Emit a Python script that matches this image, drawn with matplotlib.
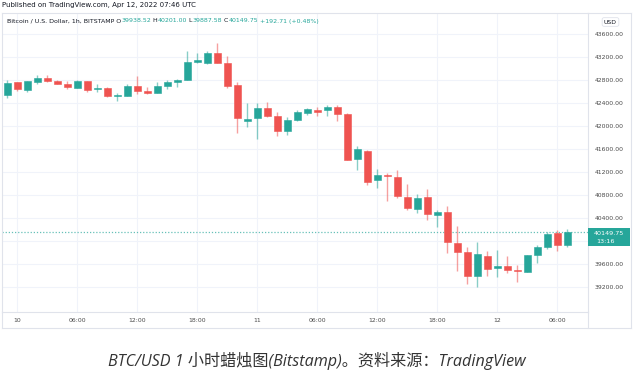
import matplotlib
matplotlib.use("Agg")
import matplotlib.pyplot as plt
from matplotlib.patches import Rectangle
import numpy as np

# hourly candles, hour 0 = Apr 10 00:00 UTC
hours = list(range(-1, 56))
opens = [42544, 42765, 42626, 42771, 42830, 42788, 42730, 42666, 42777, 42638,
         42661, 42527, 42527, 42696, 42609, 42579, 42696, 42771, 42800, 43118,
         43101, 43275, 43101, 42713, 42087, 42144, 42313, 42174, 41919, 42104,
         42231, 42273, 42278, 42336, 42209, 41421, 41571, 41061, 41148, 41118,
         40771, 40562, 40765, 40458, 40510, 39970, 39804, 39397, 39739, 39531,
         39560, 39496, 39467, 39752, 39901, 40134, 39938.52]
highs = [42800, 42770, 42788, 42887, 42887, 42800, 42783, 42800, 42788, 42730,
         42678, 42579, 42730, 42870, 42673, 42765, 42800, 42823, 43310, 43275,
         43304, 43449, 43217, 42760, 42395, 42395, 42417, 42238, 42151, 42278,
         42313, 42325, 42365, 42365, 42231, 41652, 41583, 41247, 41178, 41235,
         40991, 40818, 40904, 40539, 40609, 40261, 39901, 39988, 39832, 39844,
         39745, 39583, 39757, 39931, 40151, 40191, 40201.00]
lows = [42492, 42614, 42597, 42730, 42765, 42730, 42649, 42661, 42586, 42586,
        42504, 42440, 42527, 42551, 42551, 42569, 42649, 42684, 42800, 43090,
        43073, 43101, 42666, 41884, 41988, 41774, 42151, 41831, 41844, 42092,
        42197, 42180, 42174, 42087, 41409, 41235, 40974, 40927, 40696, 40743,
        40539, 40492, 40365, 40249, 39786, 39484, 39253, 39206, 39392, 39380,
        39438, 39293, 39467, 39623, 39866, 39832, 39887.58]
closes = [42753, 42644, 42777, 42835, 42788, 42736, 42673, 42788, 42626, 42661,
          42527, 42544, 42701, 42604, 42569, 42696, 42760, 42800, 43113, 43148,
          43275, 43101, 42701, 42144, 42122, 42313, 42174, 41913, 42104, 42244,
          42301, 42238, 42336, 42209, 41409, 41600, 41031, 41148, 41130, 40783,
          40579, 40753, 40465, 40510, 39988, 39814, 39397, 39774, 39508, 39560,
          39501, 39478, 39757, 39891, 40117, 39931, 40149.75]

time_ticks = [0, 6, 12, 18, 24, 30, 36, 42, 48, 54]
time_labels = ['10', '06:00', '12:00', '18:00', '11', '06:00', '12:00', '18:00', '12', '06:00']
grid_prices = list(range(39200, 43601, 400))
# 40000 sits under the last-price badge, so it carries no label
price_ticks = [p for p in grid_prices if p != 40000]

header = "Published on TradingView.com, Apr 12, 2022 07:46 UTC"
legend_parts = [("Bitcoin / U.S. Dollar, 1h, BITSTAMP O", "dark"), ("39938.52", "up"),
                (" H", "dark"), ("40201.00", "up"), (" L", "dark"), ("39887.58", "up"),
                (" C", "dark"), ("40149.75", "up"), (" +192.71 (+0.48%)", "up")]
caption = "BTC/USD 1 小时蜡烛图(Bitstamp)。资料来源：TradingView"

UP = '#26a69a'
DOWN = '#ef5350'
DARK = '#131722'
GRID = '#f0f3fa'
BORDER = '#e0e3eb'

W, H = 633, 377
fig = plt.figure(figsize=(W / 100, H / 100), dpi=100)
fig.patch.set_facecolor('white')


def fx(px):
    return px / W


def fy(py):
    return 1 - py / H


# chart panel: x 2..588, y 13..312 (pixels)
ax = fig.add_axes([fx(2), fy(312), fx(588) - fx(2), fy(13) - fy(312)])
ax.set_xlim(-1.5, 57.1)
ax.set_ylim(43600 - 278 * 17.39, 43600 + 21 * 17.39)

for t in time_ticks:
    ax.axvline(t, color=GRID, lw=0.8, zorder=0)
for p in grid_prices:
    ax.axhline(p, color=GRID, lw=0.8, zorder=0)

o = np.array(opens)
c = np.array(closes)
hi = np.array(highs)
lo = np.array(lows)
x = np.array(hours)
colors = [UP if cc >= oo else DOWN for oo, cc in zip(o, c)]
ax.vlines(x, lo, hi, colors=colors, lw=1.0, alpha=0.55, zorder=2)
bottoms = np.minimum(o, c)
heights = np.maximum(np.abs(c - o), 20)
ax.bar(x, heights, bottom=bottoms, width=0.7, color=colors, edgecolor=colors,
       lw=0.4, zorder=3)

# last price line
ax.axhline(closes[-1], color=UP, lw=0.9, ls=(0, (1, 1.5)), alpha=0.7, zorder=1)

for s in ax.spines.values():
    s.set_color(BORDER)
    s.set_linewidth(0.8)

ax.set_xticks(time_ticks)
ax.set_xticklabels(time_labels)
ax.set_yticks(price_ticks)
ax.set_yticklabels(['%.2f' % p for p in price_ticks])
ax.yaxis.tick_right()
ax.tick_params(axis='both', length=0, labelsize=4.4, colors=DARK)
ax.tick_params(axis='y', pad=5)
ax.tick_params(axis='x', pad=4)
for lab in ax.get_xticklabels() + ax.get_yticklabels():
    lab.set_color('#4a4a4a')

# last price label box
box_h = 18 * 17.39
box_top = closes[-1] + 4.4 * 17.39
ax.add_patch(Rectangle((1.0, box_top - box_h), 42 / 586, box_h,
                       transform=ax.get_yaxis_transform(), facecolor=UP,
                       edgecolor='none', clip_on=False, zorder=5))
ax.text(1.0 + 21 / 586, box_top - 5 * 17.39, '%.2f' % closes[-1],
        transform=ax.get_yaxis_transform(), ha='center', va='center',
        color='white', fontsize=4.6, zorder=6, clip_on=False)
ax.text(1.0 + 17 / 586, box_top - 13 * 17.39, '13:16',
        transform=ax.get_yaxis_transform(), ha='center', va='center',
        color='white', fontsize=4.6, zorder=6, clip_on=False)

# legend row (multi-coloured)
prev = ax.text((7 - 2) / 586, (312 - 21) / 299, legend_parts[0][0],
               transform=ax.transAxes, fontsize=4.5, color=DARK, va='center', ha='left')
for txt, kind in legend_parts[1:]:
    prev = ax.annotate(txt, xy=(1, 0.5), xycoords=prev, va='center', ha='left',
                       fontsize=4.5, color=UP if kind == 'up' else DARK)

# outer frame pieces outside the axes
fig.add_artist(plt.Line2D([fx(2), fx(631)], [fy(328), fy(328)], color=BORDER, lw=0.8))
fig.add_artist(plt.Line2D([fx(588), fx(631)], [fy(13), fy(13)], color=BORDER, lw=0.8))
fig.add_artist(plt.Line2D([fx(631), fx(631)], [fy(13), fy(328)], color=BORDER, lw=0.8))
fig.add_artist(plt.Line2D([fx(2), fx(2)], [fy(312), fy(328)], color=BORDER, lw=0.8))
fig.add_artist(plt.Line2D([fx(588), fx(588)], [fy(312), fy(328)], color=BORDER, lw=0.8))

# USD badge
fig.text(fx(610.5), fy(22), 'USD', ha='center', va='center', fontsize=4.4, color=DARK,
         bbox=dict(boxstyle='round,pad=0.3', facecolor='white', edgecolor=BORDER, lw=0.6))

fig.text(fx(2), fy(5), header, ha='left', va='center', fontsize=5.0, color=DARK)

fig.text(0.5, fy(361), caption, ha='center', va='center', fontsize=11.6, color='#333333',
         style='italic', family=['Open Sans', 'Noto Sans CJK SC', 'DejaVu Sans'])

fig.savefig('out.png', dpi=100)
